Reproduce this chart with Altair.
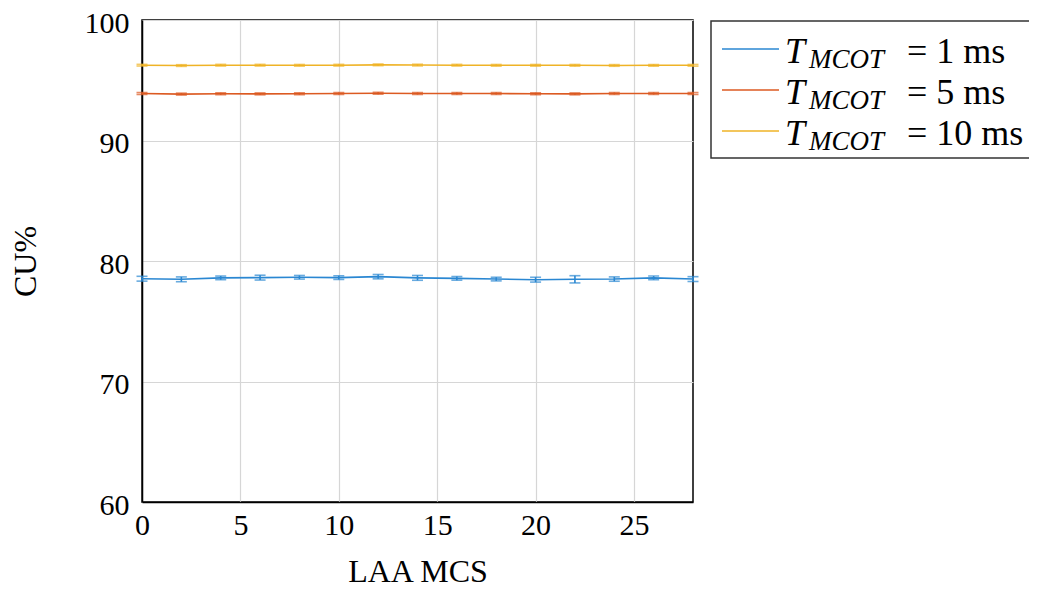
import altair as alt
import pandas as pd

# ---- data ----
mcs = [0, 2, 4, 6, 8, 10, 12, 14, 16, 18, 20, 22, 24, 26, 28]
cu_1ms = [78.53, 78.48, 78.60, 78.62, 78.65, 78.62, 78.70, 78.60, 78.56, 78.50, 78.45, 78.48, 78.50, 78.60, 78.50]
err_1ms = [0.20, 0.20, 0.15, 0.20, 0.15, 0.15, 0.18, 0.20, 0.15, 0.15, 0.20, 0.30, 0.18, 0.15, 0.20]
cu_5ms = [93.90, 93.85, 93.88, 93.87, 93.88, 93.90, 93.92, 93.90, 93.90, 93.90, 93.88, 93.87, 93.90, 93.90, 93.90]
err_5ms = [0.08] * 15
cu_10ms = [96.25, 96.22, 96.25, 96.25, 96.24, 96.25, 96.28, 96.26, 96.25, 96.24, 96.24, 96.24, 96.23, 96.24, 96.24]
err_10ms = [0.07] * 15

series = ["1 ms", "5 ms", "10 ms"]
colors = ["#2a87d2", "#dc5a22", "#efb326"]
x_ticks = [0, 5, 10, 15, 20, 25]
y_ticks = [60, 70, 80, 90, 100]

rows = []
for name, vals, errs in zip(series, [cu_1ms, cu_5ms, cu_10ms], [err_1ms, err_5ms, err_10ms]):
    for xv, yv, ev in zip(mcs, vals, errs):
        rows.append({"mcs": xv, "cu": yv, "lo": yv - ev, "hi": yv + ev, "series": name})
df = pd.DataFrame(rows)

FONT = "Liberation Serif, Times New Roman, DejaVu Serif, serif"
W, H = 551, 482

color = alt.Color("series:N", scale=alt.Scale(domain=series, range=colors), legend=None)
xenc = alt.X("mcs:Q", scale=alt.Scale(domain=[0, 28], nice=False),
             axis=alt.Axis(values=x_ticks, title="LAA MCS", labelFlush=False))
yenc = alt.Y("cu:Q", scale=alt.Scale(domain=[60, 100], nice=False),
             axis=alt.Axis(values=y_ticks, title="CU%", labelFlush=False))

base = alt.Chart(df)
lines = base.mark_line(strokeWidth=1.6).encode(x=xenc, y=yenc, color=color, detail="series:N")
bars = base.mark_rule(strokeWidth=1.6).encode(x="mcs:Q", y="lo:Q", y2="hi:Q", color=color)
cap_lo = base.mark_tick(orient="horizontal", size=11, thickness=1.6).encode(x="mcs:Q", y="lo:Q", color=color)
cap_hi = base.mark_tick(orient="horizontal", size=11, thickness=1.6).encode(x="mcs:Q", y="hi:Q", color=color)

# ---- legend drawn by hand (subscript label) ----
one = pd.DataFrame({"k": [0]})
leg_layers = [
    alt.Chart(one).mark_rect(fill="white", stroke="#333333", strokeWidth=1.5).encode(
        x=alt.value(569), x2=alt.value(930), y=alt.value(1), y2=alt.value(138))
]
for i, (name, col) in enumerate(zip(series, colors)):
    ly = 29 + 41 * i
    leg_layers.append(alt.Chart(one).mark_rule(color=col, strokeWidth=1.6).encode(
        x=alt.value(580), x2=alt.value(637), y=alt.value(ly)))
    leg_layers.append(alt.Chart(one).mark_text(text="T", font=FONT, fontSize=36, fontStyle="italic",
                                               align="left", baseline="alphabetic", color="black").encode(
        x=alt.value(643), y=alt.value(ly + 14)))
    leg_layers.append(alt.Chart(one).mark_text(text="MCOT", font=FONT, fontSize=27, fontStyle="italic",
                                               align="left", baseline="alphabetic", color="black").encode(
        x=alt.value(667), y=alt.value(ly + 19)))
    leg_layers.append(alt.Chart(one).mark_text(text="= " + name, font=FONT, fontSize=36,
                                               align="left", baseline="alphabetic", color="black").encode(
        x=alt.value(765), y=alt.value(ly + 14)))

chart = alt.layer(lines, bars, cap_lo, cap_hi, *leg_layers).properties(
    width=W, height=H,
    autosize=alt.AutoSizeParams(type="none"),
    padding={"left": 134, "top": 12, "right": 336, "bottom": 85},
).configure_view(stroke="black", strokeWidth=1.5).configure_axis(
    labelFont=FONT, labelFontSize=30, labelColor="black",
    titleFont=FONT, titleFontWeight="normal", titleColor="black",
    grid=True, gridColor="#d6d6d6", gridWidth=1.2,
    ticks=False, domainColor="black", domainWidth=1.5,
).configure_axisX(labelPadding=8, titlePadding=16, titleFontSize=32).configure_axisY(
    labelPadding=13, titlePadding=42, titleFontSize=32, labelOffset=3)

chart.save("out.html", embed_options={"renderer": "svg", "actions": False})
